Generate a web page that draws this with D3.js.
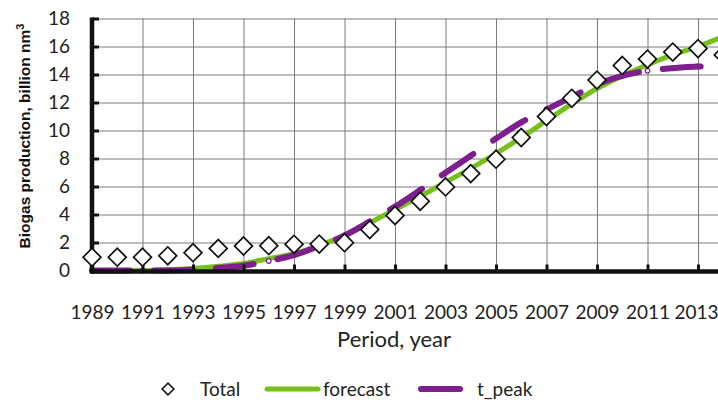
<!DOCTYPE html>
<html>
<head>
<meta charset="utf-8">
<script src="https://cdn.jsdelivr.net/npm/d3@7"></script>
<style>
  html, body { margin: 0; padding: 0; background: #fff; }
  svg { display: block; }
</style>
</head>
<body>
<svg id="chart" width="718" height="400"></svg>
<script>
// ---- data ----
const years = [1989,1990,1991,1992,1993,1994,1995,1996,1997,1998,1999,2000,2001,2002,2003,2004,2005,2006,2007,2008,2009,2010,2011,2012,2013,2014];
const total = [0.95,0.95,0.95,1.05,1.27,1.58,1.75,1.77,1.87,1.89,1.99,2.92,3.93,4.94,5.97,6.92,7.95,9.5,11.0,12.3,13.6,14.65,15.1,15.6,15.85,15.4];
const forecast = [0.0,0.0,0.0,0.05,0.15,0.3,0.5,0.85,1.2,1.8,2.5,3.4,4.35,5.3,6.3,7.3,8.35,9.5,10.7,11.9,13.0,13.9,14.7,15.4,16.0,16.7];
const tPeak = [0,0,0,0,0.05,0.18,0.34,0.68,1.1,1.75,2.5,3.5,4.56,5.75,6.98,8.2,9.42,10.58,11.5,12.4,13.3,13.9,14.27,14.45,14.57,14.6];
const xTickYears = [1989,1991,1993,1995,1997,1999,2001,2003,2005,2007,2009,2011,2013];
const yTickValues = [0,2,4,6,8,10,12,14,16,18];
const seriesNames = ["Total", "forecast", "t_peak"];
const xTitle = "Period, year";

// ---- layout ----
const svg = d3.select("#chart");
const mLeft = 92, mTop = 18.5, mBottom = 270.5;
const yearW = 25.25;
const x = d3.scaleLinear().domain([1989, 2015]).range([mLeft, mLeft + 26 * yearW]);
const y = d3.scaleLinear().domain([0, 18]).range([mBottom, mTop]);
const mRight = x(2015);

const GREEN = "#77bf1b";
const PURPLE = "#7d1f8c";
const FONT = "Lato, 'Open Sans', sans-serif";

// grid
svg.append("g").attr("class", "hgrid")
  .attr("transform", `translate(${mLeft},0)`)
  .call(d3.axisLeft(y).tickValues(yTickValues.filter(v => v > 0)).tickSize(-(mRight - mLeft)).tickFormat(""))
  .call(g => g.select(".domain").remove())
  .call(g => g.selectAll("line").attr("stroke", "#7a7a7a").attr("stroke-width", 1));

svg.append("g").attr("class", "vgrid")
  .attr("transform", `translate(0,${mTop})`)
  .call(d3.axisBottom(x).tickValues(xTickYears.filter(v => v > 1989)).tickSize(mBottom - mTop).tickFormat(""))
  .call(g => g.select(".domain").remove())
  .call(g => g.selectAll("line").attr("stroke", "#7a7a7a").attr("stroke-width", 1));

// forecast line
const pts = (arr) => years.map((yr, i) => [yr, arr[i]]);
const line = d3.line().x(d => x(d[0])).y(d => y(d[1])).curve(d3.curveMonotoneX);

svg.append("path")
  .datum(pts(forecast))
  .attr("d", line)
  .attr("fill", "none")
  .attr("stroke", GREEN)
  .attr("stroke-width", 5)
  .attr("stroke-linecap", "round");

// t_peak markers (under the line)
svg.append("g").selectAll("circle")
  .data(pts(tPeak))
  .join("circle")
  .attr("cx", d => x(d[0]))
  .attr("cy", d => y(d[1]))
  .attr("r", 2.3)
  .attr("fill", "#fff")
  .attr("stroke", PURPLE)
  .attr("stroke-width", 1.2);

svg.append("path")
  .datum(pts(tPeak))
  .attr("d", line)
  .attr("fill", "none")
  .attr("stroke", PURPLE)
  .attr("stroke-width", 6)
  .attr("stroke-linecap", "round")
  .attr("stroke-dasharray", "38,24");

// axes
const yAxis = svg.append("g")
  .attr("transform", `translate(${mLeft},0)`)
  .call(d3.axisLeft(y).tickValues(yTickValues).tickFormat(d3.format("d")).tickSizeInner(-7).tickSizeOuter(0).tickPadding(22));
yAxis.select(".domain").remove();
yAxis.selectAll(".tick line").attr("stroke", "#111").attr("stroke-width", 3);
yAxis.selectAll("text").attr("font-family", FONT).attr("font-size", 19).attr("fill", "#222");

const xAxis = svg.append("g")
  .attr("transform", `translate(0,${mBottom})`)
  .call(d3.axisBottom(x).tickValues(xTickYears).tickFormat(d3.format("d")).tickSizeInner(-6).tickSizeOuter(0).tickPadding(35));
xAxis.select(".domain").remove();
xAxis.selectAll(".tick line").attr("stroke", "#111").attr("stroke-width", 3);
xAxis.selectAll("text").attr("font-family", FONT).attr("font-size", 19).attr("fill", "#222");
// keep the last (edge) label inside the picture
xAxis.selectAll(".tick text").filter(d => d === xTickYears[xTickYears.length - 1])
  .attr("text-anchor", "end").attr("x", 20);

// axis lines
svg.append("line").attr("x1", mLeft).attr("x2", mLeft).attr("y1", mTop - 1).attr("y2", mBottom + 3)
  .attr("stroke", "#111").attr("stroke-width", 4.5);
svg.append("line").attr("x1", mLeft - 2).attr("x2", mRight).attr("y1", mBottom + 1).attr("y2", mBottom + 1)
  .attr("stroke", "#111").attr("stroke-width", 4.5);

// diamonds (Total)
const diamond = d3.symbol().type(d3.symbolSquare).size(160);
svg.append("g").selectAll("path")
  .data(pts(total))
  .join("path")
  .attr("d", diamond)
  .attr("transform", d => `translate(${x(d[0])},${y(d[1])}) rotate(45)`)
  .attr("fill", "#fff")
  .attr("stroke", "#111")
  .attr("stroke-width", 1.7);

// titles
svg.append("text")
  .attr("transform", "translate(30,136) rotate(-90)")
  .attr("text-anchor", "middle")
  .attr("font-family", "'Liberation Sans', Arial, sans-serif")
  .attr("font-weight", "bold")
  .attr("font-size", 15.5)
  .attr("fill", "#111")
  .text("Biogas production, billion nm")
  .append("tspan")
  .attr("baseline-shift", "super")
  .attr("font-size", 11)
  .text("3");

svg.append("text")
  .attr("x", 394).attr("y", 347)
  .attr("text-anchor", "middle")
  .attr("font-family", FONT)
  .attr("font-size", 22)
  .attr("fill", "#222")
  .text(xTitle);

// legend
const ly = 389;
const lg = svg.append("g");
lg.append("path")
  .attr("d", d3.symbol().type(d3.symbolSquare).size(70))
  .attr("transform", `translate(168,${ly}) rotate(45)`)
  .attr("fill", "#fff").attr("stroke", "#111").attr("stroke-width", 1.5);
lg.append("text").attr("x", 200).attr("y", ly + 6.5)
  .attr("font-family", FONT).attr("font-size", 19).attr("fill", "#222").text(seriesNames[0]);
lg.append("line").attr("x1", 267).attr("x2", 318).attr("y1", ly).attr("y2", ly)
  .attr("stroke", GREEN).attr("stroke-width", 5).attr("stroke-linecap", "round");
lg.append("text").attr("x", 323).attr("y", ly + 6.5)
  .attr("font-family", FONT).attr("font-size", 19).attr("fill", "#222").text(seriesNames[1]);
lg.append("line").attr("x1", 421).attr("x2", 460).attr("y1", ly).attr("y2", ly)
  .attr("stroke", PURPLE).attr("stroke-width", 6).attr("stroke-linecap", "round");
lg.append("text").attr("x", 477).attr("y", ly + 6.5)
  .attr("font-family", FONT).attr("font-size", 19).attr("fill", "#222").text(seriesNames[2]);
</script>
</body>
</html>
